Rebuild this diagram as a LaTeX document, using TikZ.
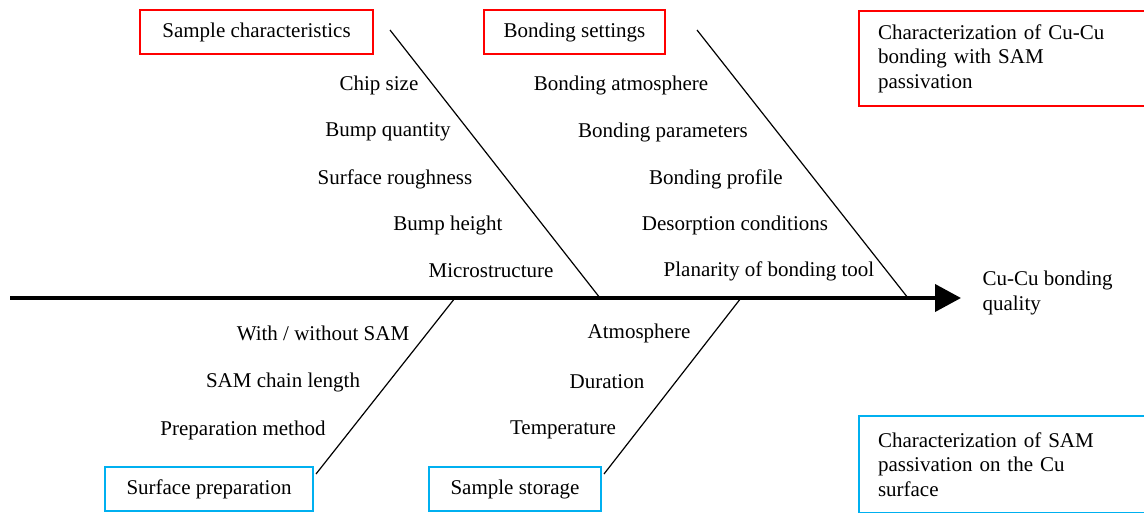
\documentclass[tikz,border=0pt]{standalone}
\usepackage{fontspec}
\setmainfont{Liberation Serif}
\usetikzlibrary{arrows.meta}
\definecolor{boxred}{RGB}{255,0,0}
\definecolor{boxblue}{RGB}{0,176,240}
\tikzset{x=1pt, y=-1pt,
every node/.style={ % Sets the text of all nodes
font=\fontsize{21}{24.5}\selectfont},
causebox/.style={ % Main cause boxes
draw, line width=2pt, minimum height=44pt, inner xsep=0pt},
notebox/.style={ % Boxes on the right
draw, line width=2pt, align=left, text width=250pt, inner xsep=19pt, anchor=north west},
bone/.style={ % Sides of the fishbone
draw, line width=1.2pt}}

\begin{document}
\begin{tikzpicture}
\useasboundingbox (0,0) rectangle (1144,513);
% spine
\coordinate (tail) at (10,298);
\node[align=left, anchor=west] (effect) at (979,293) {Cu-Cu bonding\\quality};
\draw[line width=4pt, -{Triangle[length=26pt,width=27pt]}] (tail) -- (961,298);
% cause boxes
\node[causebox, draw=boxred, minimum width=233pt] (sample) at (256.5,32.5) {Sample characteristics};
\node[causebox, draw=boxred, minimum width=181pt] (bonding) at (574.5,32.5) {Bonding settings};
\node[causebox, draw=boxblue, minimum width=208pt] (surface) at (209,489) {Surface preparation};
\node[causebox, draw=boxblue, minimum width=172pt] (storage) at (515,489) {Sample storage};
% notes
\node[notebox, draw=boxred, minimum height=95pt] (note1) at (858,10) {Characterization of Cu-Cu\\bonding with SAM\\passivation};
\node[notebox, draw=boxblue, minimum height=97pt] (note2) at (858,415) {Characterization of SAM\\passivation on the Cu\\surface};
% bones
\coordinate (b1) at (390,30);  \coordinate (e1) at (600,298);
\coordinate (b2) at (697,30);  \coordinate (e2) at (908,298);
\coordinate (b3) at (316,474); \coordinate (e3) at (455,298);
\coordinate (b4) at (604,474); \coordinate (e4) at (741,298);
\draw[bone] (b1) -- (e1);
\draw[bone] (b2) -- (e2);
\draw[bone] (b3) -- (e3);
\draw[bone] (b4) -- (e4);
% sub causes
\node (chip) at (379,85) {Chip size};
\node (quantity) at (388,132) {Bump quantity};
\node (rough) at (395,179) {Surface roughness};
\node (height) at (448,225) {Bump height};
\node (micro) at (491,271) {Microstructure};
\node (atmos) at (621,85) {Bonding atmosphere};
\node (param) at (663,132) {Bonding parameters};
\node (profile) at (716,179) {Bonding profile};
\node (desorp) at (735,225) {Desorption conditions};
\node (planar) at (769,271) {Planarity of bonding tool};
\node (withsam) at (323,333) {With / without SAM};
\node (chain) at (283,382) {SAM chain length};
\node (prep) at (243,430) {Preparation method};
\node (satmos) at (639,333) {Atmosphere};
\node (duration) at (607,382) {Duration};
\node (temp) at (563,430) {Temperature};
\end{tikzpicture}
\end{document}
